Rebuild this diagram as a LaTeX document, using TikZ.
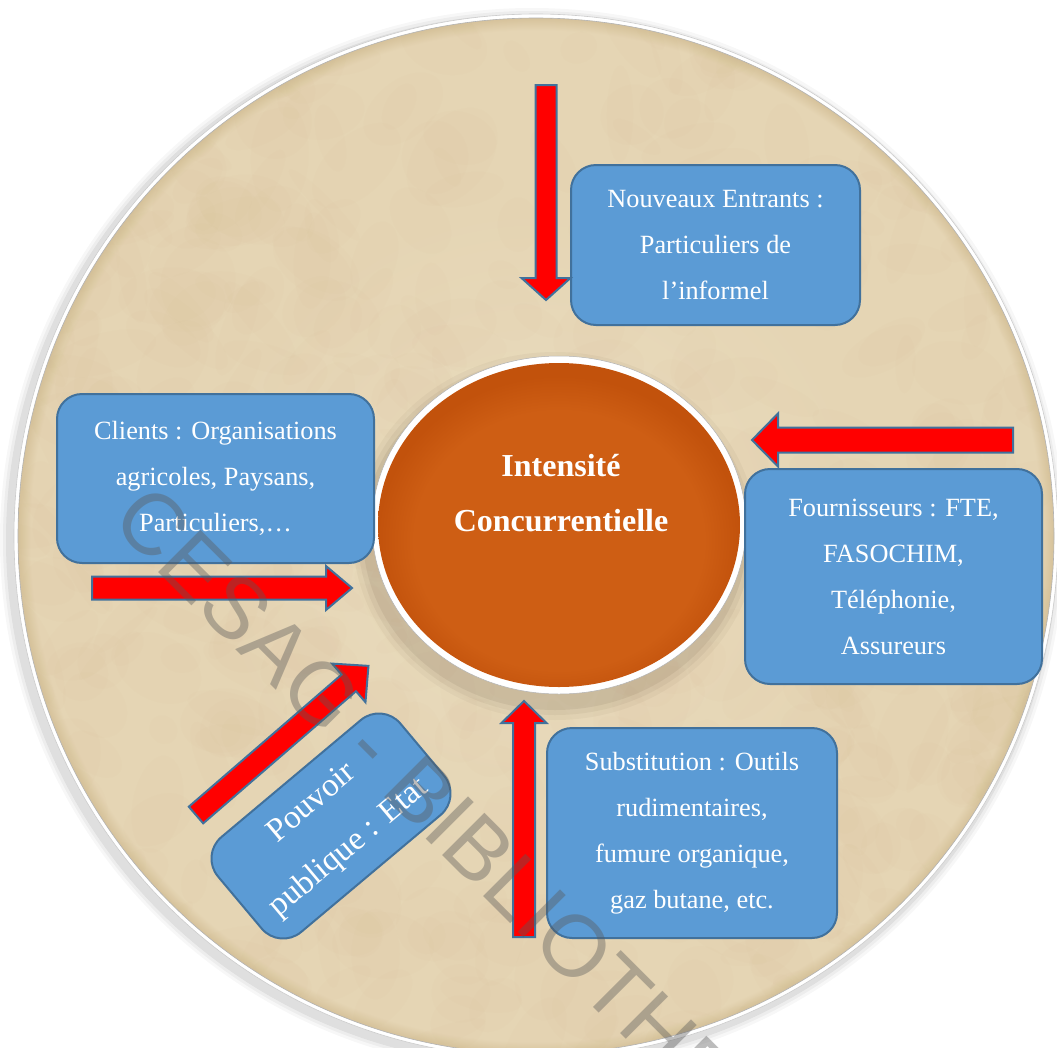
\documentclass[tikz,border=0pt]{standalone}
\usepackage{fontspec}
\setmainfont{Liberation Serif}
\newfontfamily\wmfont{Liberation Sans}
\usetikzlibrary{shapes.geometric}

\definecolor{boxblue}{HTML}{5B9BD5}
\definecolor{boxedge}{HTML}{41719C}
\definecolor{parch}{RGB}{234,221,192}
\definecolor{parchmid}{RGB}{229,213,180}
\definecolor{parchdark}{RGB}{214,194,155}
\definecolor{mottle}{RGB}{190,165,115}
\definecolor{orangein}{RGB}{206,94,20}
\definecolor{orangeout}{RGB}{194,82,12}

\pgfdeclareradialshading{parchshade}{\pgfpoint{0bp}{0bp}}{%
  color(0bp)=(parch); color(16bp)=(parchmid); color(24.4bp)=(parchmid);
  color(25bp)=(parchdark); color(50bp)=(parchdark)}
\pgfdeclareradialshading{orangeshade}{\pgfpoint{0bp}{-4bp}}{%
  color(0bp)=(orangein); color(20bp)=(orangein); color(25bp)=(orangeout); color(50bp)=(orangeout)}

\tikzset{
  pics/blockarr/.style n args={4}{code={
    \draw[redarr] (0,-#2) -- (#1-#4,-#2) -- (#1-#4,-#3) -- (#1,0)
      -- (#1-#4,#3) -- (#1-#4,#2) -- (0,#2) -- cycle;
  }},
}

\begin{document}
\begin{tikzpicture}[x=1pt,y=-1pt,
  box/.style={draw=boxedge, line width=2pt, fill=boxblue, rounded corners=25pt,
    text=white, align=center, inner sep=0pt, font=\fontsize{26.3}{46}\selectfont},
  redarr/.style={draw=boxedge, line width=2pt, fill=red, line join=miter},
  watermark/.style={text=black!65, opacity=0.4, inner sep=0pt,
    font=\wmfont\fontsize{87}{87}\selectfont},
]
\useasboundingbox (0,0) rectangle (1057,1047);
\clip (0,0) rectangle (1057,1047);
\fill[white] (0,0) rectangle (1057,1047);

% big disc: shadow, white rim, parchment
\foreach \r/\o in {532/0.03,529/0.04,526/0.06}
  \fill[black, opacity=\o] (532,540) circle (\r);
\fill[white] (536,536) circle (522);
\shade[shading=parchshade] (536,536) circle (518);
\begin{scope}
  \clip (536,536) circle (517);
  \pgfmathsetseed{12}
  \foreach \i in {1,...,600} {
    \pgfmathsetmacro\px{20+rnd*1035}
    \pgfmathsetmacro\py{15+rnd*1035}
    \pgfmathsetmacro\rx{12+rnd*45}
    \pgfmathsetmacro\ry{8+rnd*30}
    \pgfmathsetmacro\an{rnd*180}
    \fill[mottle, opacity=0.025, rotate around={\an:(\px,\py)}]
      (\px,\py) ellipse [x radius=\rx, y radius=\ry];
  }
\end{scope}
\draw[black!30, line width=0.6pt] (536,536) circle (518);
\draw[black!20, line width=0.6pt] (536,536) circle (522);

% shadow under the centre ellipse
\foreach \dx/\o in {16/0.04,11/0.05,6/0.07}
  \fill[black!70!brown, opacity=\o] (555,536) ellipse [x radius=186+\dx, y radius=168+\dx];

% centre ellipse
\fill[white] (559,525) ellipse [x radius=187, y radius=169];
\draw[black!30, line width=0.5pt] (559,525) ellipse [x radius=187, y radius=169];
\node[ellipse, minimum width=362, minimum height=324, inner sep=0pt,
  shading=orangeshade] (core) at (559,525) {};
\node[text=white, align=center, inner sep=0pt,
  font=\fontsize{32}{55}\selectfont\bfseries] (coretext) at (561,493)
  {Intensité\\Concurrentielle};

% boxes
\node[box, minimum width=289, minimum height=160] (entrants) at (715.5,245)
  {Nouveaux Entrants :\\Particuliers de\\l’informel};
\node[box, minimum width=317, minimum height=169] (clients) at (215.5,478.5)
  {Clients : Organisations\\agricoles, Paysans,\\Particuliers,…};
\node[box, minimum width=297, minimum height=215] (fourn) at (893.5,576.5)
  {Fournisseurs : FTE,\\FASOCHIM,\\Téléphonie,\\Assureurs};
\node[box, minimum width=290, minimum height=210] (subst) at (692,833)
  {Substitution : Outils\\rudimentaires,\\fumure organique,\\gaz butane, etc.};
\node[box, rotate=40, minimum width=238, minimum height=124, rounded corners=28pt,
  font=\fontsize{33}{58}\selectfont] (pouvoir) at (331,826)
  {Pouvoir\\publique : Etat};

% block arrows (tail point, rotation; length, half shaft, half head, head length)
\pic (arrtop)   [rotate=-90]   at (546,85)  {blockarr={215}{10.5}{24.5}{22}};
\pic (arrright) [rotate=180]   at (1013,440){blockarr={261}{12.5}{26.5}{26}};
\pic (arrleft)  [rotate=0]     at (92,588)  {blockarr={260}{11.5}{22}{26}};
\pic (arrbot)   [rotate=90]    at (524,937) {blockarr={236}{11}{22.5}{22}};
\pic (arrdiag)  [rotate=40.85] at (196,815) {blockarr={228}{11}{25.5}{26}};

% watermark
\node[watermark, rotate=-45, anchor=west] (wm) at (125,507) {CESAG - BIBLIOTHEQUE};
\end{tikzpicture}
\end{document}
